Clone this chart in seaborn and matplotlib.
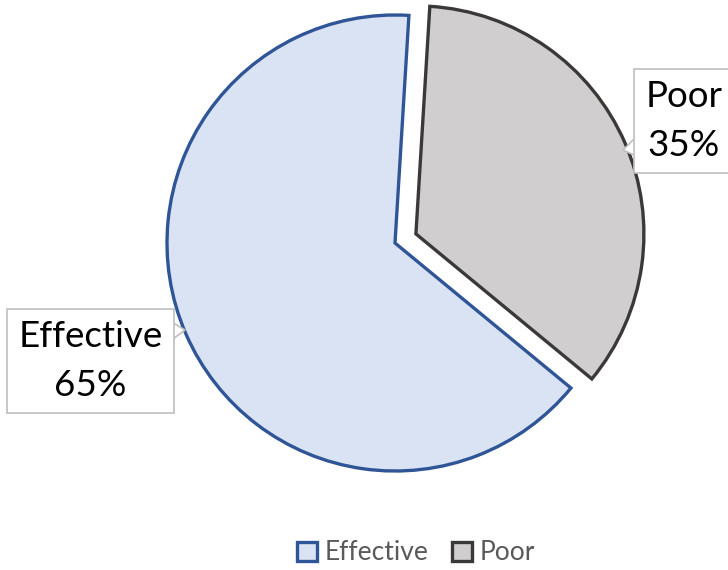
import matplotlib
matplotlib.use("Agg")
import matplotlib.pyplot as plt
import seaborn as sns
import numpy as np
from matplotlib.patches import Patch, Polygon

categories = ["Effective", "Poor"]
values = [65, 35]
pct_labels = ["65%", "35%"]

fills = ["#DAE3F3", "#D0CECE"]
edges = ["#2F5597", "#3B3838"]

sns.set_theme(style="white")
plt.rcParams['font.family'] = ['Lato', 'DejaVu Sans']

fig = plt.figure(figsize=(7.28, 5.70), dpi=100)
ax = fig.add_axes([0, 0, 1, 1])
R = 228.0

wedges, _ = ax.pie(values, startangle=86.5, counterclock=True,
                   explode=[0, 0.1], colors=fills, radius=1.0,
                   wedgeprops=dict(linewidth=2.4))
for w, ec in zip(wedges, edges):
    w.set_edgecolor(ec)

ax.set_xlim(-395 / R, (728 - 395) / R)
ax.set_ylim(-(570 - 243) / R, 243 / R)
ax.set_aspect("equal")
ax.axis("off")


def px(x, y):
    return ((x - 395) / R, (243 - y) / R)


# callout pointers (drawn below label boxes)
for pts in ([(165, 318), (185, 330), (165, 345)],
            [(645, 128), (623, 150), (645, 160)]):
    ax.add_patch(Polygon([px(*p) for p in pts], closed=True, fc="white",
                         ec="#BFBFBF", lw=1.2, zorder=3))

label_pos = [px(90.5, 361), px(684, 121)]
for cat, pct, (tx, ty) in zip(categories, pct_labels, label_pos):
    ax.text(tx, ty, f"{cat}\n{pct}", ha="center", va="center",
            fontsize=26.5, color="#000000", linespacing=1.62, zorder=4,
            bbox=dict(boxstyle="square,pad=0.3", fc="white", ec="#BFBFBF", lw=1.2))

handles = [Patch(facecolor=f, edgecolor=e, linewidth=2.4, label=c)
           for f, e, c in zip(fills, edges, categories)]
leg = fig.legend(handles=handles, loc="center", bbox_to_anchor=(416 / 728, 1 - 553 / 570),
                 ncol=2, frameon=False, fontsize=19, handlelength=0.75, handleheight=0.75,
                 handletextpad=0.3, columnspacing=0.9, labelcolor="#595959")

fig.savefig("out.png", dpi=100)
